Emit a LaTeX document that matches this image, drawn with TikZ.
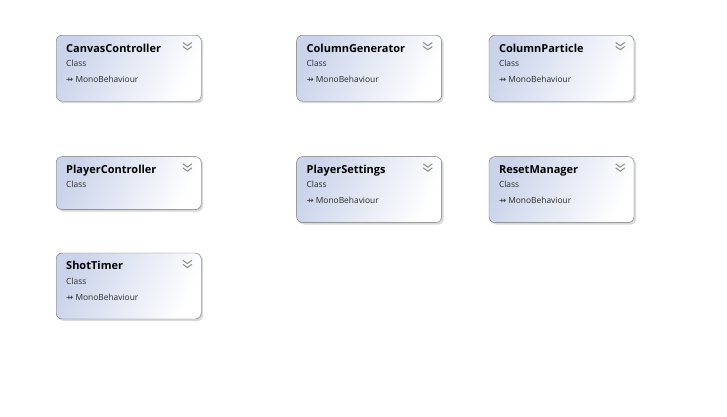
\documentclass[tikz,border=0pt]{standalone}
\usepackage{fontspec}
\setmainfont{Open Sans}
\newfontfamily\arrowfont{DejaVu Sans}
\usetikzlibrary{positioning, shadows}

\definecolor{boxline}{HTML}{6E6E6E}
\definecolor{boxfill}{HTML}{CAD3EA}
\definecolor{chevroncol}{HTML}{8C8C8C}
\definecolor{infotext}{HTML}{2B2B2B}

\tikzset{
    classbox/.style={draw=boxline, rounded corners=6pt, inner sep=0pt,
                     minimum width=145pt, minimum height=66pt,
                     left color=boxfill, right color=white, shading angle=65,
                     drop shadow={shadow xshift=2pt, shadow yshift=-2pt,
                                  fill=black!30, opacity=0.5}},
    classname/.style={anchor=base west, inner sep=0pt,
                      font=\bfseries\fontsize{11}{13}\selectfont},
    classinfo/.style={anchor=base west, inner sep=0pt, text=infotext,
                      font=\fontsize{8.4}{10}\selectfont},
}

\begin{document}
\begin{tikzpicture}[x=1pt, y=1pt]
    \useasboundingbox[fill=white] (0,0) rectangle (727,-416);

    % Add the classes
        \node[classbox, anchor=north west] (canvas) at (56,-35) {};
        \node[classbox,
              right=95pt of canvas] (generator) {};
        \node[classbox,
              right=47pt of generator] (particle) {};
        \node[classbox,
              below=55pt of canvas.south west, anchor=north west,
              minimum height=53pt] (player) {};
        \node[classbox,
              below=55pt of generator] (settings) {};
        \node[classbox,
              below=55pt of particle] (reset) {};
        \node[classbox,
              below=43pt of player.south west, anchor=north west] (shottimer) {};

    % Names, stereotypes and collapse chevrons
        \foreach \b/\t/\m in {canvas/CanvasController/1,
                              generator/ColumnGenerator/1,
                              particle/ColumnParticle/1,
                              player/PlayerController/0,
                              settings/PlayerSettings/1,
                              reset/ResetManager/1,
                              shottimer/ShotTimer/1} {
            \node[classname] (\b-name) at ([xshift=10pt, yshift=-17pt]\b.north west) {\t};
            \node[classinfo] (\b-kind) at ([yshift=-14.5pt]\b-name.base west) {Class};
            \ifnum\m=1
                \node[classinfo] (\b-base) at ([yshift=-16pt]\b-kind.base west)
                    {{\arrowfont\fontsize{8.5}{10}\selectfont ⇸} MonoBehaviour};
            \fi
            \draw[chevroncol, line width=1pt]
                ([xshift=-18.5pt, yshift=-7.5pt]\b.north east) -- ++(4.5,-3.2) -- ++(4.5,3.2)
                ([xshift=-18.5pt, yshift=-11.5pt]\b.north east) -- ++(4.5,-3.2) -- ++(4.5,3.2);
        }
\end{tikzpicture}
\end{document}
